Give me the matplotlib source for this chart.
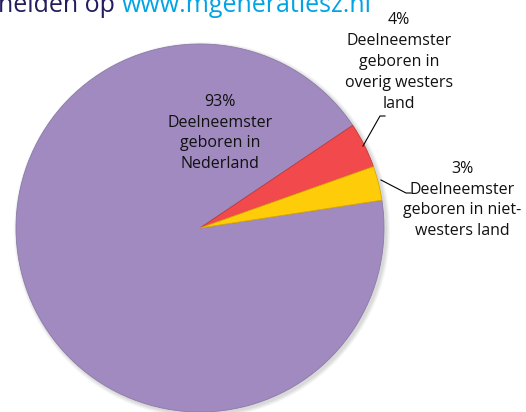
import matplotlib
matplotlib.use("Agg")
import matplotlib.pyplot as plt

# Data
categories = ["Deelneemster geboren in Nederland",
              "Deelneemster geboren in overig westers land",
              "Deelneemster geboren in niet-westers land"]
values = [93, 4, 3]
pct_labels = ["93%", "4%", "3%"]
label_texts = ["93%\nDeelneemster\ngeboren in\nNederland",
               "4%\nDeelneemster\ngeboren in\noverig westers\nland",
               "3%\nDeelneemster\ngeboren in niet-\nwesters land"]
colors = ["#A08ABF", "#F24A4C", "#FFCC0A"]

W, H = 526, 412
fig = plt.figure(figsize=(W / 100, H / 100), dpi=100)
ax = fig.add_axes([0, 0, 1, 1])

cx, cy, r = 200, H - 228, 184
font = ["Open Sans", "DejaVu Sans"]

# soft shadow
for i, a in enumerate([0.05, 0.05, 0.06, 0.07]):
    sh = plt.Circle((cx + 2, cy - 2), r + 4 - i, color="#555555", alpha=a, lw=0)
    ax.add_patch(sh)

wedges, _ = ax.pie(values, colors=colors, startangle=8.7, counterclock=False,
                   center=(cx, cy), radius=r, frame=True,
                   wedgeprops=dict(edgecolor="#8a7aa8", linewidth=0.6))
wedges[1].set_edgecolor("#c03838")
wedges[2].set_edgecolor("#d9a800")
ax.set_xlim(0, W)
ax.set_ylim(0, H)
ax.set_aspect("equal")
ax.axis("off")

# labels
kw = dict(ha="center", va="center", fontsize=11.5, family=font,
          color="#111111", linespacing=1.4)
ax.text(220, H - 133, label_texts[0], **kw)
ax.text(399, H - 62, label_texts[1], **kw)
ax.text(462, H - 200, label_texts[2], **kw)

# leader lines
ax.plot([363, 380, 385], [H - 146, H - 116, H - 116], color="black", lw=0.8)
ax.plot([381, 406, 411], [H - 180, H - 193, H - 193], color="black", lw=0.8)

# title text, cut off at the top edge as in the reference
t1 = ax.text(-2, H - 12, "nelden op ", ha="left", va="baseline", fontsize=18,
             family=font, color="#231C5E", clip_on=False)
fig.canvas.draw()
bb = t1.get_window_extent()
ax.text(bb.x1, H - 12, "www.mgeneratiesz.nl", ha="left", va="baseline", fontsize=18,
        family=font, color="#00A3E4")

fig.savefig("out.png", dpi=100)
